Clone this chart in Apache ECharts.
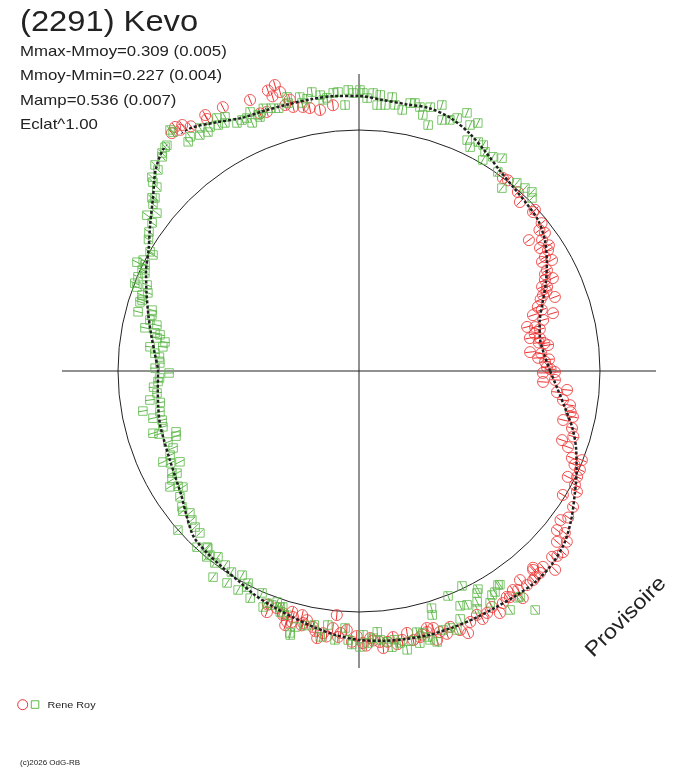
<!DOCTYPE html>
<html><head><meta charset="utf-8">
<script src="https://cdn.jsdelivr.net/npm/echarts@6/dist/echarts.min.js"></script>
<style>html,body{margin:0;padding:0;background:#fff}#c{width:688px;height:768px}</style>
</head><body><div id="c"></div>
<script>
const titleText = '(2291) Kevo';
const statLines = ['Mmax-Mmoy=0.309 (0.005)', 'Mmoy-Mmin=0.227 (0.004)', 'Mamp=0.536 (0.007)', 'Eclat^1.00'];
const observer = 'Rene Roy';
const credit = '(c)2026 OdG-RB';
const stamp = 'Provisoire';

// Fourier fit: phase angle (deg) and relative brightness (mean = 1)
const fitAngle = [0,5,10,15,20,25,30,35,40,45,50,55,60,65,70,75,80,85,90,95,100,105,110,115,120,125,130,135,140,145,150,155,160,165,170,175,180,185,190,195,200,205,210,215,220,225,230,235,240,245,250,255,260,265,270,275,280,285,290,295,300,305,310,315,320,325,330,335,340,345,350,355];
const fitFlux = [0.793,0.772,0.763,0.776,0.809,0.855,0.900,0.942,0.971,0.983,0.996,1.017,1.050,1.087,1.116,1.129,1.124,1.129,1.141,1.145,1.145,1.145,1.149,1.158,1.191,1.228,1.237,1.191,1.116,1.058,1.008,0.975,0.938,0.905,0.876,0.851,0.834,0.838,0.846,0.855,0.859,0.867,0.880,0.900,0.934,0.971,0.983,0.992,1.004,1.025,1.041,1.058,1.079,1.100,1.116,1.124,1.129,1.133,1.133,1.133,1.133,1.137,1.141,1.133,1.112,1.075,1.033,0.996,0.959,0.917,0.867,0.826];

// observations: [phase angle deg, relative brightness]
const redPoints = [
[127.0,1.268],[125.7,1.257],[128.2,1.256],[126.5,1.245],[124.5,1.232],[121.0,1.239],[121.1,1.221],[117.3,1.232],[111.9,1.212],[111.0,1.145],[109.6,1.141],[108.0,1.224],[106.4,1.237],[107.5,1.195],[105.8,1.203],[105.5,1.145],[104.3,1.162],[104.0,1.129],[102.0,1.120],[100.6,1.110],[98.5,1.095],[95.6,1.108],
[53.3,0.999],[52.0,1.004],[48.4,0.993],[46.4,0.968],[42.4,0.978],[42.5,0.990],[39.0,0.975],[38.0,0.950],[36.6,0.961],[37.6,0.890],[35.6,0.934],[34.2,0.908],[33.5,0.945],[32.6,0.931],[31.5,0.905],[30.8,0.884],[29.9,0.924],[28.2,0.885],[27.5,0.870],[26.1,0.859],[25.6,0.892],[24.7,0.836],[24.1,0.855],[23.0,0.845],[22.4,0.826],[21.5,0.810],[20.7,0.869],[19.7,0.788],[18.5,0.800],[17.8,0.758],[16.6,0.840],[15.5,0.793],[14.7,0.721],[14.0,0.753],[13.0,0.770],[12.0,0.745],[10.9,0.722],[10.3,0.763],[9.0,0.755],[8.5,0.778],[7.8,0.792],[6.3,0.714],[5.5,0.760],[4.2,0.745],[3.5,0.790],[2.8,0.773],[1.2,0.780],[0.5,0.795],
[359.7,0.813],[359.4,0.763],[357.4,0.814],[356.6,0.765],[354.8,0.867],[353.9,0.826],[351.9,0.855],[350.8,0.887],[349.0,0.895],[347.9,0.908],[346.5,0.871],[345.0,0.915],[343.0,0.930],[341.2,0.890],[340.0,0.923],[338.2,0.996],[337.8,0.954],[336.5,0.975],[335.9,1.004],[334.1,1.006],[333.1,0.971],[332.2,1.013],[331.0,1.034],[328.7,0.990],[327.6,1.052],[325.0,1.060],[323.5,1.040],[321.8,1.087],[321.2,1.054],[320.6,1.116],[319.2,1.085],[318.4,1.132],[317.0,1.125],[316.1,1.112],[314.6,1.159],[313.2,1.115],[311.9,1.125],[311.5,1.090],[311.2,1.097],[310.5,1.125],[309.8,1.129],[308.1,1.129],[307.6,1.095],[306.0,1.123],[305.8,1.162],[305.1,1.111],[303.7,1.128],[303.2,1.120],[301.8,1.133],[300.2,1.162],[299.4,1.124],[297.9,1.136],[296.5,1.150],[295.8,1.124],[293.9,1.139],[292.6,1.178],[291.3,1.154],[289.6,1.127],[288.5,1.150],[287.2,1.134],[286.2,1.162],[286.1,1.110],[284.8,1.103],[284.6,1.119],[283.5,1.125],[282.9,1.133],[281.4,1.139],[280.4,1.105],[279.1,1.130],[278.0,1.145],[277.3,1.113],[276.0,1.130],[275.0,1.154],[274.4,1.128],[273.0,1.120],[272.4,1.109],[271.5,1.140],[270.8,1.129],[269.5,1.100],[268.5,1.124],[267.3,1.076],[266.0,1.090],[265.5,1.107],[264.8,1.017],[264.2,1.072],[263.0,1.110],[262.2,1.098],[261.1,1.122],[260.5,1.095],[259.8,1.079],[258.2,1.056],[257.5,1.071],[257.3,1.082],[256.9,1.040],[255.0,1.057],[255.0,1.078],[254.5,1.037],[254.0,1.083],[253.8,1.098],[252.7,1.061],[252.6,1.053],[250.9,1.041],[249.1,1.071],[248.7,1.041]
];
const greenPoints = [
[89.2,1.154],[87.1,1.155],[85.6,1.149],[88.3,1.133],[86.1,1.106],[84.4,1.109],[83.1,1.145],[82.3,1.114],[80.6,1.098],[79.2,1.132],[78.2,1.136],[77.0,1.124],[74.9,1.134],[72.7,1.156],[76.0,1.095],[74.3,1.060],[71.7,1.097],[70.1,1.108],[68.8,1.126],[67.3,1.161],[65.7,1.120],[64.4,1.141],[64.9,1.058],[63.6,1.037],[62.5,1.071],[61.2,1.070],[60.1,1.049],[59.6,1.015],[58.0,1.048],[56.1,1.064],[55.1,1.007],[52.0,0.963],[50.0,1.019],[47.8,1.025],[46.0,1.033],[45.0,1.015],
[128.1,1.271],[127.9,1.256],[125.8,1.198],[126.7,1.186],[123.2,1.205],[124.0,1.181],[122.3,1.173],[121.4,1.186],[119.3,1.204],[119.8,1.176],[117.8,1.192],[118.4,1.170],[116.2,1.147],[115.0,1.149],[113.9,1.148],[112.8,1.166],[113.3,1.121],[111.5,1.142],[111.3,1.131],[130.9,1.229],[130.4,1.230],[132.1,1.219],[132.6,1.207],[134.7,1.203],[135.0,1.180],[136.9,1.177],[137.5,1.160],[137.7,1.134],[140.1,1.120],[139.7,1.110],[143.7,1.092],[142.0,1.064],[144.4,1.056],[104.7,1.176],[104.8,1.150],[102.2,1.163],[102.0,1.137],[99.6,1.174],[98.0,1.156],[96.7,1.141],[95.3,1.159],[94.3,1.161],[93.0,1.105],[92.2,1.167],[91.2,1.154],[89.8,1.166],[108.5,1.150],[107.0,1.140],[110.0,1.160],[100.8,1.150],[97.5,1.135],[146.5,1.045],[148.0,1.030],[141.0,1.100],
[150.3,0.998],[150.6,0.981],[152.8,1.007],[153.9,1.026],[153.6,0.991],[155.0,0.993],[155.4,0.977],[156.9,0.997],[158.6,0.999],[159.3,0.985],[157.9,0.949],[160.7,0.954],[159.7,0.934],[162.5,0.953],[161.9,0.947],[165.0,0.949],[163.6,0.895],[164.9,0.890],[166.3,0.893],[167.2,0.860],[168.6,0.906],[169.4,0.861],[169.7,0.839],[170.7,0.849],[171.5,0.814],[173.4,0.873],[173.0,0.820],[175.0,0.850],[176.0,0.830],[177.7,0.827],[179.2,0.846],[180.6,0.788],[182.0,0.828],[183.0,0.835],[184.5,0.855],[186.2,0.843],[187.9,0.876],[189.0,0.835],[190.5,0.912],[191.6,0.843],[192.9,0.877],[194.0,0.842],[195.9,0.846],[196.8,0.893],[197.5,0.870],[198.4,0.800],[199.6,0.806],[200.4,0.846],[202.5,0.835],[204.0,0.858],[204.9,0.897],[206.0,0.870],[206.9,0.833],[208.6,0.884],[209.3,0.866],[210.2,0.898],[211.5,0.920],[212.5,0.890],[213.4,0.875],[215.1,0.908],[217.5,0.926],[218.5,0.935],[220.0,0.916],[221.7,0.929],[223.6,0.939],[221.3,1.000],[225.5,0.942],[229.5,0.966],
[227.4,0.993],[229.2,0.965],[231.0,0.983],[230.7,0.997],[232.8,0.968],[233.1,0.996],[235.4,0.978],[234.7,1.048],[238.1,1.036],[237.6,0.988],[240.2,0.976],[241.1,1.038],[242.6,1.010],[242.4,0.993],[244.4,1.045],[246.4,1.005],[248.4,1.036],[247.9,1.057],[249.6,1.036],[250.5,1.017],[251.9,1.052],[252.1,1.029],[253.6,1.056],[256.0,1.095],[255.4,1.132],
[251.5,1.033],[255.2,1.124],[258.0,1.080],[260.0,1.070],[261.7,1.115],[263.0,1.062],[264.9,1.120],[266.9,1.068],[267.7,1.117],[268.5,1.135],[270.2,1.145],[270.9,1.095],[271.9,1.129],[273.0,1.110],[274.0,1.085],[274.5,1.119],[275.9,1.130],[276.8,1.154],[277.5,1.125],[278.6,1.141],[279.8,1.174],[281.0,1.140],[282.5,1.110],[282.6,1.157],[284.5,1.140],[287.0,1.029],[286.7,1.057],[283.7,1.119],[284.8,1.154],[286.1,1.170],[288.0,1.130],[289.5,1.131],[290.7,1.149],
[295.6,0.989],[291.6,1.004],[298.6,1.031],[298.0,1.043],[303.0,1.059],[301.6,1.077],[300.7,1.081],[293.3,1.061],[294.8,1.069],[297.1,1.076],[306.4,1.232],[302.3,1.173],[305.5,1.151],[292.2,1.111],[296.4,1.102],[299.5,1.105],[303.4,1.062],[305.0,1.149]
];
const ERR = 0.02;

const RED = '#ee3030';
const GREEN = '#5cb848';
const INK = '#222222';
const CENTER = [359, 371];

const toPolar = arr => arr.map(p => [p[1], p[0]]);
const fitData = fitAngle.map((a, i) => [fitFlux[i], a]);
fitData.push([fitFlux[0], 360]);

function errBars(color) {
  return function (params, api) {
    const r = api.value(0), a = api.value(1);
    const p1 = api.coord([r - ERR, a]);
    const p2 = api.coord([r + ERR, a]);
    return { type: 'line', shape: { x1: p1[0], y1: p1[1], x2: p2[0], y2: p2[1] },
      style: { stroke: color, lineWidth: 1 } };
  };
}

const chart = echarts.init(document.getElementById('c'), null, { renderer: 'canvas' });
const txt = (x, y, text, size, sx, extra) => Object.assign({
  type: 'text', x: x, y: y, scaleX: sx, silent: true,
  style: { text: text, font: size + 'px "Liberation Sans", Arial, sans-serif', fill: INK,
    textAlign: 'left', align: 'left', textVerticalAlign: 'middle', verticalAlign: 'middle' }
}, extra || {});

chart.setOption({
  animation: false,
  backgroundColor: '#ffffff',
  polar: [
    { center: CENTER, radius: 241 },
    { center: CENTER, radius: 297 }
  ],
  angleAxis: [
    { polarIndex: 0, type: 'value', min: 0, max: 360, interval: 90, startAngle: 0, clockwise: false,
      axisLine: { show: true, lineStyle: { color: INK, width: 1 } },
      axisTick: { show: false }, axisLabel: { show: false }, splitLine: { show: false } },
    { polarIndex: 1, type: 'value', min: 0, max: 360, interval: 90, startAngle: 0, clockwise: false,
      axisLine: { show: false }, axisTick: { show: false }, axisLabel: { show: false },
      splitLine: { show: true, lineStyle: { color: INK, width: 1 } } }
  ],
  radiusAxis: [
    { polarIndex: 0, type: 'value', min: 0, max: 1,
      axisLine: { show: false }, axisTick: { show: false }, axisLabel: { show: false }, splitLine: { show: false } },
    { polarIndex: 1, type: 'value', min: 0, max: 297 / 241,
      axisLine: { show: false }, axisTick: { show: false }, axisLabel: { show: false }, splitLine: { show: false } }
  ],
  series: [
    { type: 'custom', coordinateSystem: 'polar', polarIndex: 1, clip: false, z: 2,
      renderItem: errBars(RED), data: toPolar(redPoints), silent: true },
    { type: 'scatter', coordinateSystem: 'polar', polarIndex: 1, clip: false, z: 2,
      symbol: 'circle', symbolSize: 11, data: toPolar(redPoints),
      itemStyle: { color: 'rgba(0,0,0,0)', borderColor: RED, borderWidth: 1 } },
    { type: 'custom', coordinateSystem: 'polar', polarIndex: 1, clip: false, z: 3,
      renderItem: errBars(GREEN), data: toPolar(greenPoints), silent: true },
    { type: 'scatter', coordinateSystem: 'polar', polarIndex: 1, clip: false, z: 3,
      symbol: 'rect', symbolSize: 8.5, data: toPolar(greenPoints),
      itemStyle: { color: 'rgba(0,0,0,0)', borderColor: GREEN, borderWidth: 1 } },
    { type: 'line', coordinateSystem: 'polar', polarIndex: 1, clip: false, z: 4,
      data: fitData, symbol: 'none', smooth: 0.3,
      lineStyle: { color: '#202020', width: 2.5, type: [3, 2] } }
  ],
  graphic: [
    txt(20, 22.5, titleText, 30, 1.09),
    txt(20, 51.5, statLines[0], 15, 1.12),
    txt(20, 76, statLines[1], 15, 1.12),
    txt(20, 100.7, statLines[2], 15, 1.12),
    txt(20, 125, statLines[3], 15, 1.12),
    { type: 'circle', shape: { cx: 22.7, cy: 704.7, r: 5 }, style: { fill: 'none', stroke: RED, lineWidth: 1 }, silent: true },
    { type: 'rect', shape: { x: 31.3, y: 700.8, width: 7.5, height: 7.5 }, style: { fill: 'none', stroke: GREEN, lineWidth: 1 }, silent: true },
    txt(47.5, 705.5, observer, 9, 1.2),
    txt(20, 762.5, credit, 8, 1.0),
    { type: 'text', x: 626, y: 617, rotation: Math.PI / 4, scaleX: 1.12, silent: true,
      style: { text: stamp, font: '21px "Liberation Sans", Arial, sans-serif', fill: INK,
        textAlign: 'center', align: 'center', textVerticalAlign: 'middle', verticalAlign: 'middle' } }
  ]
});
</script>
</body></html>
